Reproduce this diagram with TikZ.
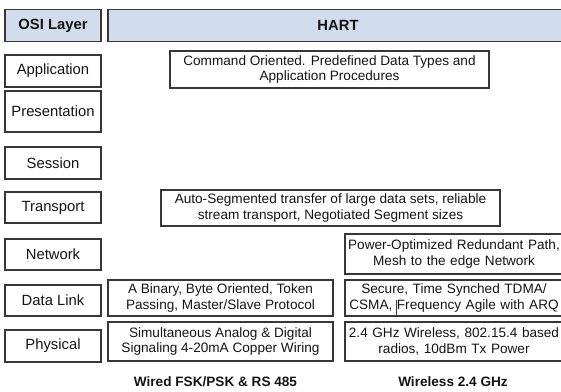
\documentclass[tikz,border=0pt]{standalone}
\usepackage{fontspec}
\setmainfont{Liberation Sans}
\definecolor{hdrfill}{RGB}{209,220,237}
\definecolor{edge}{RGB}{55,55,55}
\definecolor{ink}{RGB}{20,20,20}
\begin{document}
\begin{tikzpicture}[x=1pt,y=-1pt,
  box/.style={draw=edge,line width=1.1pt,inner sep=0pt,align=center,text=ink,
    font=\fontsize{13.6}{15.5}\selectfont},
  layer/.style={box,font=\fontsize{14.8}{16}\selectfont},
  hdr/.style={box,fill=hdrfill,font=\fontsize{14.8}{16}\selectfont\bfseries},
  foot/.style={inner sep=0pt,text=ink,font=\fontsize{13.6}{16}\selectfont\bfseries}]
\useasboundingbox (0,0) rectangle (561,391);
\clip (0,0) rectangle (561,391);
% left column
\node[hdr,minimum width=96pt,minimum height=32pt] (osi) at (53,25.5) {OSI Layer};
\node[hdr,minimum width=460pt,minimum height=32pt] (hart) at (338,25.5) {HART};
\node[layer,minimum width=96pt,minimum height=32pt] (app) at (53,71) {Application};
\node[layer,minimum width=96pt,minimum height=41pt] (pres) at (53,111.5) {Presentation};
\node[layer,minimum width=96pt,minimum height=32pt] (sess) at (53,163) {Session};
\node[layer,minimum width=96pt,minimum height=31pt] (trans) at (53,207.5) {Transport};
\node[layer,minimum width=96pt,minimum height=31pt] (net) at (53,254.5) {Network};
\node[layer,minimum width=96pt,minimum height=31pt] (dl) at (53,300.5) {Data Link};
\node[layer,minimum width=96pt,minimum height=32pt] (phy) at (53,346) {Physical};
% HART content
\node[box,minimum width=319pt,minimum height=37pt] (cmd) at (329.5,69.5)
  {Command Oriented. Predefined Data Types and\\Application Procedures};
\node[box,minimum width=339pt,minimum height=36pt] (seg) at (330.5,208)
  {Auto-Segmented transfer of large data sets, reliable\\stream transport, Negotiated Segment sizes};
\node[box,minimum width=218pt,minimum height=40pt,text width=214pt] (mesh) at (454,254)
  {Power-Optimized Redundant Path,\\Mesh to the edge Network};
\node[box,minimum width=225pt,minimum height=36pt] (dlw) at (220.5,298)
  {A Binary, Byte Oriented, Token\\Passing, Master/Slave Protocol};
\node[box,minimum width=218pt,minimum height=36pt,text width=214pt] (dlr) at (454,298)
  {Secure, Time Synched TDMA/\\CSMA, Frequency Agile with ARQ};
\node[box,minimum width=225pt,minimum height=39pt] (phw) at (220.5,341.5)
  {Simultaneous Analog \& Digital\\Signaling 4-20mA Copper Wiring};
\node[box,minimum width=218pt,minimum height=39pt,text width=214pt] (phr) at (454,341.5)
  {2.4 GHz Wireless, 802.15.4 based\\radios, 10dBm Tx Power};
\coordinate (cur) at (396,316);
\draw[edge,line width=0.7pt] (cur) -- ++(0,-16);
% footer
\node[foot] (fw) at (215.5,382) {Wired FSK/PSK \& RS 485};
\node[foot] (fr) at (453,382) {Wireless 2.4 GHz};
\end{tikzpicture}
\end{document}
